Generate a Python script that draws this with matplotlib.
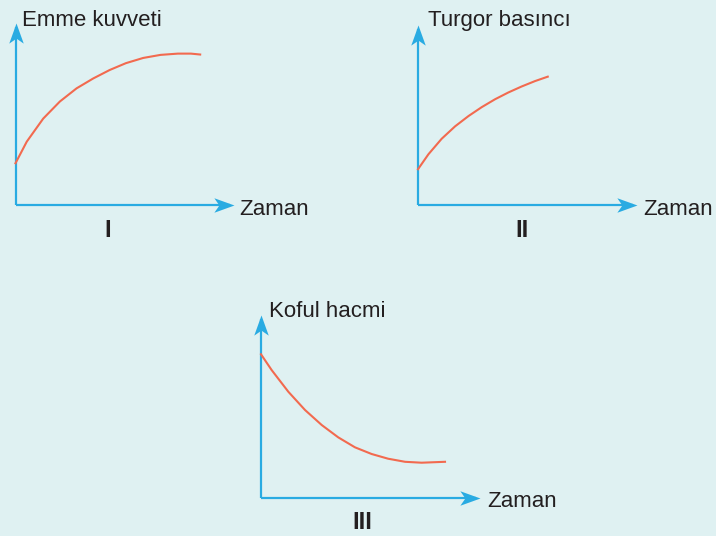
import matplotlib.pyplot as plt
from matplotlib.path import Path

# --- veriler (0-10 ölçeğinde) ---
zaman_1 = [0, 0.52, 1.28, 2.05, 2.82, 3.59, 4.35, 5.1, 5.9, 6.7, 7.5, 8.1, 8.53]
emme_kuvveti = [2.32, 3.52, 4.8, 5.75, 6.48, 7.03, 7.5, 7.88, 8.17, 8.34, 8.41, 8.41, 8.36]

zaman_2 = [0, 0.48, 1.09, 1.71, 2.33, 2.94, 3.55, 4.16, 4.78, 5.39, 5.98]
turgor_basinci = [2.01, 2.85, 3.72, 4.42, 5.0, 5.5, 5.94, 6.32, 6.66, 6.96, 7.21]

zaman_3 = [0, 0.49, 1.26, 2.03, 2.8, 3.56, 4.33, 5.1, 5.86, 6.64, 7.4, 8.48]
koful_hacmi = [7.94, 7.07, 5.87, 4.86, 4.03, 3.35, 2.8, 2.43, 2.17, 2.0, 1.95, 2.0]

y_labels = ["Emme kuvveti", "Turgor basınc\u0131", "Koful hacmi"]
x_label = "Zaman"
numerals = ["I", "II", "III"]

BG = "#dff1f2"
BLUE = "#29abe2"
RED = "#f26a4f"
TXT = "#231f20"
W, H = 716, 536

# ok ucu (arkası içe kavisli, ucu (0,0) noktasında)
head_right = Path([(0, 0), (-1, 0.36), (-0.75, 0), (-1, -0.36), (0, 0)],
                  [Path.MOVETO, Path.LINETO, Path.LINETO, Path.LINETO, Path.CLOSEPOLY])
head_up = Path([(0, 0), (0.36, -1), (0, -0.75), (-0.36, -1), (0, 0)],
               [Path.MOVETO, Path.LINETO, Path.LINETO, Path.LINETO, Path.CLOSEPOLY])

fig = plt.figure(figsize=(W / 100, H / 100), dpi=100)
fig.patch.set_facecolor(BG)
plt.rcParams['font.family'] = ['Liberation Sans', 'DejaVu Sans']


def make_panel(ox, oy, right, top):
    # ox, oy: orijin (piksel); right/top: ok uçları (piksel)
    ax = fig.add_axes([ox / W, 1 - oy / H, (right - ox) / W, (oy - top) / H])
    ax.axis('off')
    ax.plot([0, 0.98], [0, 0], color=BLUE, lw=1.6, transform=ax.transAxes, clip_on=False,
            solid_capstyle='butt')
    ax.plot([0, 0], [0, 0.98], color=BLUE, lw=1.6, transform=ax.transAxes, clip_on=False,
            solid_capstyle='butt')
    ax.plot([1], [0], marker=head_right, ms=29, color=BLUE, mec='none',
            transform=ax.transAxes, clip_on=False)
    ax.plot([0], [1], marker=head_up, ms=29, color=BLUE, mec='none',
            transform=ax.transAxes, clip_on=False)
    return ax


# veri ekseni: orijinden dr/dt pikseline kadar 0-10 birim
panels = [
    (15.5, 205, 234, 23, 232, 25, zaman_1, emme_kuvveti),
    (418, 205, 637, 25, 635, 27, zaman_2, turgor_basinci),
    (261, 498, 480, 315, 478, 317, zaman_3, koful_hacmi),
]
for ox, oy, right, top, dr, dt, xs, ys in panels:
    ax = make_panel(ox, oy, right, top)
    ax.set_xlim(0, 10 * (right - ox) / (dr - ox))
    ax.set_ylim(0, 10 * (oy - top) / (oy - dt))
    ax.plot(xs, ys, color=RED, lw=1.5, clip_on=False, solid_joinstyle='round')


def ftext(x, y, s, **kw):
    fig.text(x / W, 1 - y / H, s, color=TXT, va='baseline', **kw)


# eksen başlıkları
ftext(22.5, 26, y_labels[0], fontsize=16)
ftext(428, 26, y_labels[1], fontsize=16)
ftext(269, 317, y_labels[2], fontsize=16)

ftext(239, 215, x_label, fontsize=16)
ftext(643, 215, x_label, fontsize=16)
ftext(487, 507, x_label, fontsize=16)

ftext(108, 237, numerals[0], fontsize=17, fontweight='bold', ha='center')
ftext(522, 237, numerals[1], fontsize=17, fontweight='bold', ha='center')
ftext(362, 529, numerals[2], fontsize=17, fontweight='bold', ha='center')

fig.savefig("out.png", dpi=100, facecolor=BG)
